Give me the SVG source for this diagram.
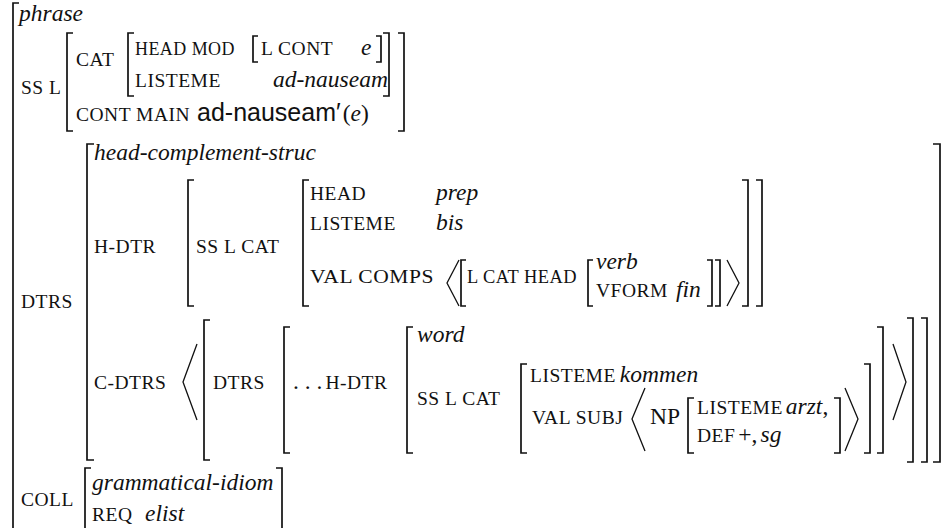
<svg xmlns="http://www.w3.org/2000/svg" width="944" height="528" viewBox="0 0 944 528">
<style>
text{fill:#111}
.sc{font-family:"Liberation Serif",serif;font-size:19.5px;letter-spacing:0.5px}
.it{font-family:"Liberation Serif",serif;font-size:23.5px;font-style:italic}
.rm{font-family:"Liberation Serif",serif;font-size:23.5px}
.sf{font-family:"Liberation Sans",sans-serif;font-size:25px}
.br{fill:none;stroke:#111;stroke-width:1.7}
.an{fill:none;stroke:#111;stroke-width:1.3}
</style>
<rect width="944" height="528" fill="#fff"/>
<g id="connectors">
<path class="br" d="M19,3H13V532"/>
<path class="br" d="M73,33H67V131H73M398,33H404V131H398"/>
<path class="br" d="M134,33H128V96H134M383,33H389V96H383"/>
<path class="br" d="M258,36H253V62H258M376,36H381V62H376"/>
<path class="br" d="M94,144H87V460H94M933,144H940V462H933"/>
<path class="br" d="M194,180H188V306H194M756,180H762V306H756"/>
<path class="br" d="M309,180H303V306H309M742,180H748V306H742"/>
<path class="an" d="M459,260L447,283L459,306"/>
<path class="br" d="M466,260H461V306H466"/>
<path class="br" d="M593,260H588V306H593M707,260H712V306H707M715,260H720V306H715"/>
<path class="an" d="M727,260L739,283L727,306"/>
<path class="an" d="M197,344L183,382L197,420"/>
<path class="br" d="M210,320H204V460H210M907,318H913V462H907M921,318H927V462H921"/>
<path class="br" d="M290,327H284V453H290"/>
<path class="br" d="M413,327H407V453H413M877,327H883V453H877"/>
<path class="br" d="M527,364H521V453H527M864,364H870V453H864"/>
<path class="an" d="M645,388L632,419L645,451"/>
<path class="br" d="M694,398H688V453H694M834,398H840V453H834"/>
<path class="an" d="M845,388L858,419L845,451"/>
<path class="an" d="M893,344L906,382L893,420"/>
<path class="br" d="M91,468H85V534M276,468H282V534"/>
</g>
<g id="phrase"><text class="it" x="19" y="21">phrase</text></g>
<g id="ssl">
<text class="sc" x="21" y="94">SS L</text>
<text class="sc" x="76" y="66">CAT</text>
<text class="sc" x="135" y="55" textLength="100" lengthAdjust="spacingAndGlyphs">HEAD MOD</text>
<text class="sc" x="261" y="55">L CONT</text>
<text class="it" x="361" y="55">e</text>
<text class="sc" x="135" y="87">LISTEME</text>
<text class="it" x="273" y="87">ad-nauseam</text>
<text class="sc" x="76" y="121">CONT MAIN</text>
<text x="197" y="121"><tspan class="sf">ad-nauseam′</tspan><tspan class="rm" dx="2">(</tspan><tspan class="it">e</tspan><tspan class="rm">)</tspan></text>
</g>
<g id="dtrs">
<text class="sc" x="21" y="308">DTRS</text>
<text class="it" x="94" y="160">head-complement-struc</text>
</g>
<g id="hdtr">
<text class="sc" x="94" y="253">H-DTR</text>
<text class="sc" x="196" y="253">SS L CAT</text>
<text class="sc" x="310" y="200">HEAD</text>
<text class="it" x="436" y="200">prep</text>
<text class="sc" x="310" y="230">LISTEME</text>
<text class="it" x="436" y="230">bis</text>
<text class="sc" x="310" y="283" textLength="124" lengthAdjust="spacingAndGlyphs">VAL COMPS</text>
<text class="sc" x="467" y="283" textLength="110" lengthAdjust="spacingAndGlyphs">L CAT HEAD</text>
<text class="it" x="596" y="269">verb</text>
<text class="sc" x="596" y="297">VFORM</text>
<text class="it" x="676" y="297">fin</text>
</g>
<g id="cdtrs">
<text class="sc" x="94" y="389">C-DTRS</text>
<text class="sc" x="213" y="389">DTRS</text>
<text x="293" y="389"><tspan class="rm">. . .</tspan><tspan class="sc" dx="3">H-DTR</tspan></text>
<text class="it" x="417" y="342">word</text>
<text class="sc" x="417" y="405">SS L CAT</text>
<text x="530" y="382"><tspan class="sc">LISTEME</tspan><tspan class="it" dx="4">kommen</tspan></text>
<text class="sc" x="532" y="424">VAL SUBJ</text>
<text class="rm" x="650" y="424">NP</text>
<text x="697" y="414"><tspan class="sc">LISTEME</tspan><tspan class="it" dx="3">arzt</tspan><tspan class="rm">,</tspan></text>
<text x="697" y="442"><tspan class="sc">DEF</tspan><tspan class="rm" dx="3">+,</tspan><tspan class="it" dx="3">sg</tspan></text>
</g>
<g id="coll">
<text class="sc" x="21" y="506">COLL</text>
<text class="it" x="92" y="490">grammatical-idiom</text>
<text class="sc" x="92" y="521">REQ</text>
<text class="it" x="145" y="521">elist</text>
</g>
</svg>
